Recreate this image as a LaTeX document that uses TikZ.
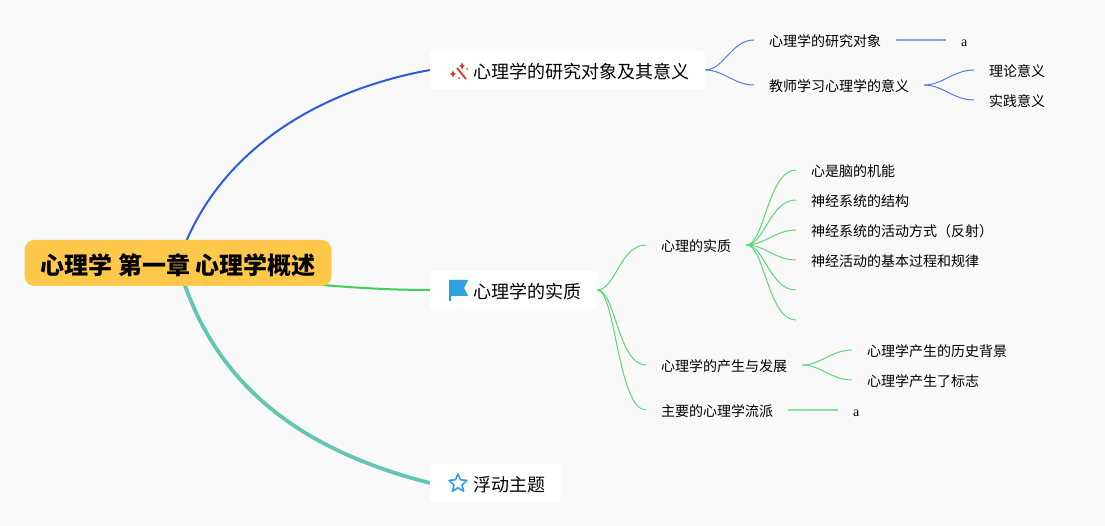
\documentclass[tikz,border=0pt]{standalone}
\usepackage{fontspec}
\setmainfont{Noto Sans CJK SC}
\newfontfamily\latinfont{Liberation Serif}
\usetikzlibrary{backgrounds}

\definecolor{pagegray}{HTML}{F9F9FA}
\definecolor{rootyellow}{HTML}{FFC84A}
\definecolor{lineblue}{HTML}{2A5BE0}
\definecolor{linegreen}{HTML}{3FCF60}
\definecolor{lineteal}{HTML}{64C6B0}
\definecolor{iconblue}{HTML}{2E9FE0}
\definecolor{iconred}{HTML}{D4382C}

\tikzset{
    root/.style = {rectangle, rounded corners = 10pt, fill = rootyellow, inner xsep = 16pt, inner ysep = 0pt, minimum height = 46pt, text height = 23pt, text depth = 0pt, font = \fontsize{24}{24}\selectfont\bfseries},
    branch/.style = {rectangle, rounded corners = 3pt, fill = white, inner xsep = 16pt, inner ysep = 0pt, minimum height = 38pt, anchor = west, text height = 17.5pt, text depth = 0pt, font = \fontsize{18}{18}\selectfont},
    leaf/.style = {inner xsep = 15pt, inner ysep = 0pt, minimum height = 20pt, anchor = west, text height = 12.8pt, text depth = 0pt, font = \fontsize{14}{14}\selectfont},
    bluefan/.style = {draw = lineblue!80, line width = 1pt},
    greenfan/.style = {draw = linegreen!85, line width = 1pt},
    sway/.style = {out = 0, in = 180, out max distance = 18pt, in max distance = 28pt}
}

\begin{document}
\begin{tikzpicture}[x = 1pt, y = -1pt]
\useasboundingbox (0, 0) rectangle (1105, 526);

\node [root] (root) at (178, 263) {心理学 第一章 心理学概述};

\node [branch] (object) at (430, 70) {\hspace*{27pt}心理学的研究对象及其意义};
\node [branch] (essence) at (430, 290) {\hspace*{27pt}心理学的实质};
\node [branch] (floating) at (430, 483) {\hspace*{27pt}浮动主题};

% upper branch
\node [leaf] (target) at (754, 40) {心理学的研究对象};
\node [leaf] (targeta) at (946, 40) {\latinfont a};
\node [leaf] (teacher) at (754, 85) {教师学习心理学的意义};
\node [leaf] (theory) at (974, 70) {理论意义};
\node [leaf] (practice) at (974, 100) {实践意义};

% middle branch
\node [leaf] (mind) at (646, 245) {心理的实质};
\node [leaf] (brain) at (796, 170) {心是脑的机能};
\node [leaf] (structure) at (796, 200) {神经系统的结构};
\node [leaf] (reflex) at (796, 230) {神经系统的活动方式（反射）};
\node [leaf] (process) at (796, 260) {神经活动的基本过程和规律};
\coordinate (blankone) at (796, 290);
\coordinate (blanktwo) at (796, 320);
\node [leaf] (origin) at (646, 365) {心理学的产生与发展};
\node [leaf] (history) at (852, 350) {心理学产生的历史背景};
\node [leaf] (mark) at (852, 380) {心理学产生了标志};
\node [leaf] (school) at (646, 410) {主要的心理学流派};
\node [leaf] (schoola) at (838, 410) {\latinfont a};

\begin{scope}[on background layer]
    \fill [pagegray] (0, 0) rectangle (1105, 526);
    \draw [lineblue, line width = 2pt] (root.center) .. controls (215, 150) and (320, 90) .. (object.west);
    \draw [linegreen, line width = 2pt] (root.center) .. controls (250, 280) and (350, 290) .. (essence.west);
    \draw [lineteal, line width = 3.8pt] (root.center) .. controls (215, 398) and (320, 455) .. (floating.west);
\end{scope}

\draw [bluefan] (object.east) to [sway] (target.west);
\draw [bluefan] (object.east) to [sway] (teacher.west);
\draw [bluefan] (teacher.east) to [sway] (theory.west);
\draw [bluefan] (teacher.east) to [sway] (practice.west);
\draw [bluefan, line width = 1.4pt, draw opacity = .7] (target.east) -- (targeta.west);

\draw [greenfan] (essence.east) to [sway] (mind.west);
\draw [greenfan] (essence.east) to [sway] (origin.west);
\draw [greenfan] (essence.east) to [sway] (school.west);
\foreach \child in {brain, structure, reflex, process, blankone, blanktwo}
    \draw [greenfan] (mind.east) to [sway] (\child);
\draw [greenfan] (origin.east) to [sway] (history.west);
\draw [greenfan] (origin.east) to [sway] (mark.west);
\draw [greenfan, line width = 1.4pt, draw opacity = .7] (school.east) -- (schoola.west);

% wand icon
\begin{scope}[shift = {(object.west)}, iconred]
    \draw [line width = 1.8pt] (27, -2) -- (36, 9);
    \fill (32, -8) -- (33, -5) -- (35, -4) -- (33, -3) -- (32, 0) -- (31, -3) -- (29, -4) -- (31, -5) -- cycle;
    \fill (23, 0) -- (24, 3) -- (26, 4) -- (24, 5) -- (23, 8) -- (22, 5) -- (20, 4) -- (22, 3) -- cycle;
    \fill (37, -1) circle (1pt);
    \fill (29, 8) circle (1pt);
\end{scope}

% flag icon
\begin{scope}[shift = {(essence.west)}, iconblue]
    \fill (19, -10) -- (38, -10) -- (34, -2) -- (38, 6) -- (21, 6) -- (21, 11) -- (19, 11) -- cycle;
\end{scope}

% star icon
\begin{scope}[shift = {(floating.west)}, iconblue]
    \draw [line width = 1.6pt, line join = round] (28, -9) -- (30.5, -3.2) -- (37, -2.6) -- (32, 1.8) -- (33.6, 8.2) -- (28, 4.8) -- (22.4, 8.2) -- (24, 1.8) -- (19, -2.6) -- (25.5, -3.2) -- cycle;
\end{scope}
\end{tikzpicture}
\end{document}
